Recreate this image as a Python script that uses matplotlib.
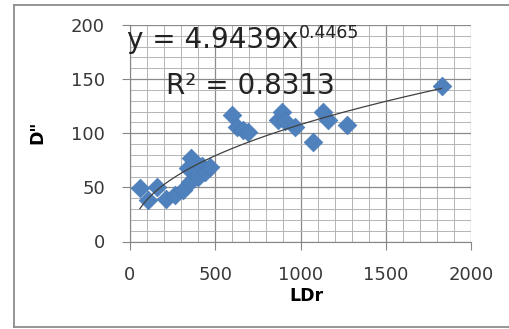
import matplotlib.pyplot as plt
import numpy as np
from matplotlib.lines import Line2D
from matplotlib.ticker import MultipleLocator

plt.rcParams["font.family"] = ["DejaVu Sans"]

# LDr vs D'' observations
ldr = [58, 107, 156, 214, 262, 311, 340, 350, 360, 399, 420, 440, 469,
       596, 630, 660, 694, 870, 889, 908, 967, 1075, 1134, 1163, 1275, 1827]
d2 = [49, 38, 50, 39, 43, 48, 68, 55, 77, 60, 70, 64, 69,
      117, 106, 103, 101, 112, 120, 111, 106, 92, 120, 112, 108, 144]

coef_a = 4.9439
coef_b = 0.4465
r_squared = 0.8313

W, H = 510, 329
fig = plt.figure(figsize=(W / 100, H / 100), dpi=100)

# chart-area border (left, top, bottom)
border = dict(color="#8c8c8c", linewidth=1.3, transform=fig.transFigure)
fig.lines.append(Line2D([14 / W, 14 / W], [2 / H, 1 - 5 / H], **border))
fig.lines.append(Line2D([14 / W, 1], [1 - 5 / H, 1 - 5 / H], **border))
fig.lines.append(Line2D([14 / W, 1], [2 / H, 2 / H], **border))

ax = fig.add_axes([130 / W, 1 - 241.5 / H, 341 / W, 216.5 / H])

ax.set_xlim(0, 2000)
ax.set_ylim(0, 200)
ax.xaxis.set_major_locator(MultipleLocator(500))
ax.xaxis.set_minor_locator(MultipleLocator(100))
ax.yaxis.set_major_locator(MultipleLocator(50))
ax.yaxis.set_minor_locator(MultipleLocator(10))
ax.grid(which="major", color="#8a8a8a", linewidth=0.9)
ax.grid(which="minor", color="#b4b4b4", linewidth=0.7)
ax.set_axisbelow(True)

for side in ("top", "right"):
    ax.spines[side].set_visible(False)
for side in ("left", "bottom"):
    ax.spines[side].set_color("#868686")
ax.tick_params(which="major", direction="out", length=6, color="#868686",
               labelsize=13, labelcolor="#383838")
ax.tick_params(axis="y", pad=12)
ax.tick_params(axis="x", pad=12)
ax.tick_params(which="minor", length=0)

ax.scatter(ldr, d2, marker="D", s=90, color="#4f81bd", edgecolors="#4a7bb7",
           linewidths=0.5, zorder=3)

xs = np.linspace(min(ldr), max(ldr), 200)
ax.plot(xs, coef_a * xs ** coef_b, color="#404040", linewidth=0.9, zorder=4)

eq = ax.text(-18, 178.5, f"y = {coef_a}x", fontsize=20, color="#222222",
             ha="left", va="baseline", zorder=5)
ax.annotate(f"{coef_b}", xy=(1, 0), xycoords=eq, xytext=(1, 16),
            textcoords="offset pixels", fontsize=12.5, color="#222222",
            ha="left", va="baseline", zorder=5)
ax.text(211, 136, f"R² = {r_squared}", fontsize=20, color="#222222",
        ha="left", va="baseline", zorder=5)

fig.text(306 / W, 1 - 296 / H, "LDr", fontsize=12.5, fontweight="bold",
         ha="center", va="center")
fig.text(37 / W, 1 - 132 / H, 'D"', fontsize=12.5, fontweight="bold",
         rotation=90, ha="center", va="center")

fig.savefig("out.png", dpi=100)
